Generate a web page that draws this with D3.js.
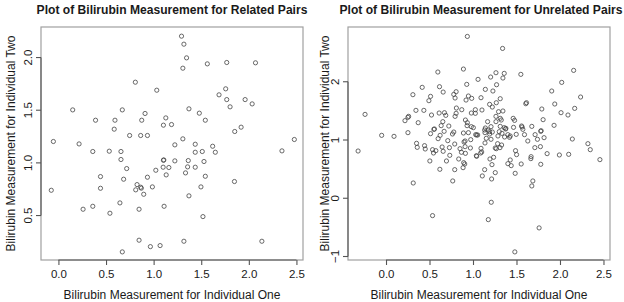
<!DOCTYPE html>
<html><head><meta charset="utf-8">
<script src="https://cdn.jsdelivr.net/npm/d3@7"></script>
<style>
html,body{margin:0;padding:0;background:#fff;}
svg text{font-family:"Liberation Sans",Arial,Helvetica,sans-serif;fill:#1a1a1a;}
</style></head>
<body><svg id="c" width="624" height="302"></svg>
<script>
// Related pairs: [individual one, individual two]
const relatedOne = [1.293,1.318,1.346,1.307,1.564,1.768,2.070,0.808,1.033,1.757,1.687,1.768,1.961,2.035,1.803,0.150,0.671,0.910,1.371,1.480,0.390,0.594,0.875,1.128,1.543,1.103,1.188,0.586,1.919,1.852,0.748,0.864,0.935,-0.053,0.217,1.307,1.223,1.437,1.620,2.478,0.361,0.534,0.657,1.437,1.511,1.648,2.348,0.657,1.107,1.103,1.223,1.364,1.529,0.717,1.100,1.160,1.023,1.357,1.437,1.335,1.132,0.442,0.685,0.935,1.543,1.849,0.826,0.864,0.871,0.812,0.987,0.442,-0.075,1.497,0.896,1.371,0.646,0.361,0.259,0.847,1.110,0.541,1.518,0.847,1.318,2.137,0.966,1.068,0.671];
const relatedTwo = [2.203,2.127,1.997,1.899,1.940,1.953,1.950,1.766,1.690,1.703,1.646,1.601,1.601,1.560,1.532,1.503,1.503,1.469,1.513,1.472,1.405,1.405,1.405,1.427,1.405,1.358,1.364,1.320,1.339,1.298,1.260,1.260,1.260,1.203,1.180,1.228,1.171,1.177,1.158,1.222,1.108,1.111,1.108,1.101,1.108,1.101,1.114,1.032,1.028,1.025,1.019,1.022,1.013,0.946,0.959,0.956,0.930,0.962,0.959,0.905,0.886,0.870,0.845,0.864,0.873,0.823,0.794,0.769,0.760,0.744,0.772,0.759,0.740,0.772,0.702,0.687,0.620,0.588,0.560,0.560,0.588,0.522,0.490,0.266,0.256,0.256,0.205,0.215,0.155];

// Unrelated pairs
const unrelatedOne = [0.935,1.340,0.596,0.890,2.157,1.550,1.058,1.203,1.264,1.359,1.344,2.020,0.416,0.615,0.928,1.271,1.905,0.309,0.512,0.493,0.657,0.779,0.806,0.794,0.920,0.947,0.985,1.142,1.229,1.092,1.313,2.237,1.191,1.222,1.268,1.615,1.607,1.940,1.791,2.169,2.012,2.092,-0.241,0.344,0.435,0.523,0.611,0.672,0.687,0.809,0.806,0.794,0.871,1.027,0.981,1.103,1.027,1.294,1.344,1.264,1.313,0.260,0.252,0.218,0.370,0.913,0.935,1.168,1.264,1.325,1.462,1.478,1.806,1.932,1.466,1.558,1.565,1.676,0.557,0.550,0.653,0.634,0.722,0.932,0.981,1.004,1.142,1.207,1.313,1.359,1.378,1.375,0.252,0.512,0.622,0.668,0.779,0.764,0.890,0.947,1.031,1.042,1.054,1.138,1.191,1.222,1.302,1.333,1.401,1.428,1.287,1.363,1.497,1.592,1.714,1.779,-0.050,0.092,0.599,0.710,0.790,0.897,0.909,0.974,1.153,1.207,1.138,1.283,1.329,1.630,1.741,1.817,2.142,0.351,0.359,0.443,0.451,0.535,0.546,0.573,0.645,0.657,0.729,0.851,0.867,0.909,0.913,0.970,1.092,1.100,1.088,1.256,1.268,1.310,1.489,1.501,1.711,1.775,1.852,1.993,2.100,2.321,2.348,2.459,-0.321,0.504,0.695,0.733,0.836,0.893,0.905,0.886,1.039,1.042,1.195,1.237,1.218,1.428,1.401,1.439,1.554,1.665,1.779,0.619,0.790,1.134,1.256,1.107,1.214,1.485,0.767,1.688,1.676,0.313,1.210,0.535,1.176,1.760,1.481,1.172,1.134,1.191,1.420,1.573,1.783,1.668];
const unrelatedTwo = [2.778,2.572,2.167,2.218,2.195,2.127,2.041,2.081,2.155,2.144,2.064,1.989,1.904,1.915,1.955,1.949,1.841,1.778,1.749,1.675,1.823,1.783,1.829,1.721,1.686,1.755,1.715,1.869,1.841,1.726,1.709,1.738,1.612,1.566,1.640,1.640,1.623,1.618,1.532,1.543,1.469,1.429,1.440,1.509,1.509,1.429,1.463,1.469,1.423,1.549,1.458,1.406,1.520,1.520,1.463,1.515,1.458,1.486,1.498,1.406,1.372,1.406,1.389,1.332,1.297,1.343,1.297,1.315,1.315,1.343,1.372,1.337,1.349,1.252,1.217,1.240,1.223,1.234,1.189,1.183,1.315,1.246,1.240,1.246,1.229,1.212,1.206,1.229,1.234,1.212,1.200,1.189,1.126,1.109,1.080,1.149,1.137,1.103,1.120,1.126,1.092,1.086,1.086,1.126,1.143,1.137,1.143,1.114,1.092,1.069,1.069,1.052,1.097,1.092,1.092,1.149,1.080,1.063,1.023,0.989,0.931,0.966,0.983,1.006,1.029,1.012,0.949,0.937,0.914,0.983,1.012,1.040,1.017,0.943,0.874,0.903,0.846,0.834,0.777,0.817,0.880,0.806,0.869,0.851,0.789,0.886,0.771,0.863,0.857,0.794,0.777,0.863,0.851,0.869,0.817,0.749,0.869,0.886,0.766,0.743,0.754,0.937,0.834,0.663,0.811,0.640,0.640,0.737,0.674,0.611,0.588,0.525,0.731,0.720,0.674,0.703,0.577,0.657,0.594,0.560,0.588,0.680,0.583,0.497,0.491,0.491,0.440,0.383,0.331,0.428,0.297,0.297,0.211,0.262,-0.069,-0.298,-0.367,-0.509,-0.921,1.172,1.172,1.103,1.046,1.183,1.160,0.714];

const relatedXTicks = [0.0,0.5,1.0,1.5,2.0,2.5];
const relatedYTicks = [0.5,1.0,1.5,2.0];
const unrelatedXTicks = [0.0,0.5,1.0,1.5,2.0,2.5];
const unrelatedYTicks = [-1,0,1,2];

const titles = ["Plot of Bilirubin Measurement for Related Pairs","Plot of Bilirubin Measurement for Unrelated Pairs"];
const xLabel = "Bilirubin Measurement for Individual One";
const yLabel = "Bilirubin Measurement for Individual Two";

const svg = d3.select("#c");

function panel(o){
  const g = svg.append("g");
  const x = d3.scaleLinear().domain(o.xDom).range([o.left,o.right]);
  const y = d3.scaleLinear().domain(o.yDom).range([o.bottom,o.top]);
  // box
  g.append("rect").attr("x",o.left).attr("y",o.top)
    .attr("width",o.right-o.left).attr("height",o.bottom-o.top)
    .attr("fill","none").attr("stroke","#a0a0a0").attr("stroke-width",1.2);
  // axes
  const ax = g.append("g").attr("transform",`translate(0,${o.bottom})`)
    .call(d3.axisBottom(x).tickValues(o.xTicks).tickSize(5).tickPadding(5).tickSizeOuter(0)
      .tickFormat(d3.format(".1f")));
  ax.select(".domain").attr("d",`M${x(o.xTicks[0])},0H${x(o.xTicks[o.xTicks.length-1])}`);
  const ay = g.append("g").attr("transform",`translate(${o.left},0)`)
    .call(d3.axisLeft(y).tickValues(o.yTicks).tickSize(5).tickPadding(5).tickSizeOuter(0)
      .tickFormat(o.yFmt));
  ay.select(".domain").attr("d",`M0,${y(o.yTicks[0])}V${y(o.yTicks[o.yTicks.length-1])}`);
  [ax,ay].forEach(a=>{
    a.selectAll(".domain").attr("stroke","#555").attr("stroke-width",1.1);
    a.selectAll(".tick line").attr("stroke","#555").attr("stroke-width",1.1);
    a.selectAll(".tick text").attr("font-size",11.5).attr("fill","#1a1a1a")
      .attr("font-family","Liberation Sans, Arial, sans-serif");
  });
  ay.selectAll(".tick text").attr("text-anchor","middle").attr("x",null).attr("dy",null)
    .attr("transform",d=>`translate(${o.ytx - o.left},${y(d)}) rotate(-90)`)
    .attr("y",0).attr("dy","0.35em");
  ay.selectAll(".tick").attr("transform","translate(0,0)");
  ay.selectAll(".tick line").attr("transform",d=>`translate(0,${y(d)})`);
  // points
  g.append("g").selectAll("circle").data(o.xs.map((v,i)=>[v,o.ys[i]])).join("circle")
    .attr("cx",d=>x(d[0])).attr("cy",d=>y(d[1])).attr("r",2.1)
    .attr("fill","none").attr("stroke","#444").attr("stroke-width",0.8);
  // titles
  const cx = (o.left+o.right)/2, cy=(o.top+o.bottom)/2;
  g.append("text").attr("x",cx+o.tdx).attr("y",14).attr("text-anchor","middle")
    .attr("font-weight","bold").attr("font-size",12.1).text(o.title);
  g.append("text").attr("x",cx).attr("y",299).attr("text-anchor","middle")
    .attr("font-size",12).text(xLabel);
  g.append("text").attr("transform",`translate(${o.ylx},${cy}) rotate(-90)`)
    .attr("text-anchor","middle").attr("font-size",12).text(yLabel);
}

panel({left:41,right:303,top:27,bottom:260,xDom:[-0.183,2.569],yDom:[0.078,2.29],
  xTicks:relatedXTicks,yTicks:relatedYTicks,yFmt:d3.format(".1f"),
  xs:relatedOne,ys:relatedTwo,title:titles[0],ytx:28,ylx:15,tdx:0});
panel({left:348,right:610,top:27,bottom:260,xDom:[-0.437,2.575],yDom:[-1.06,2.94],
  xTicks:unrelatedXTicks,yTicks:unrelatedYTicks,yFmt:d3.format("d"),
  xs:unrelatedOne,ys:unrelatedTwo,title:titles[1],ytx:335,ylx:329,tdx:2});
</script></body></html>
